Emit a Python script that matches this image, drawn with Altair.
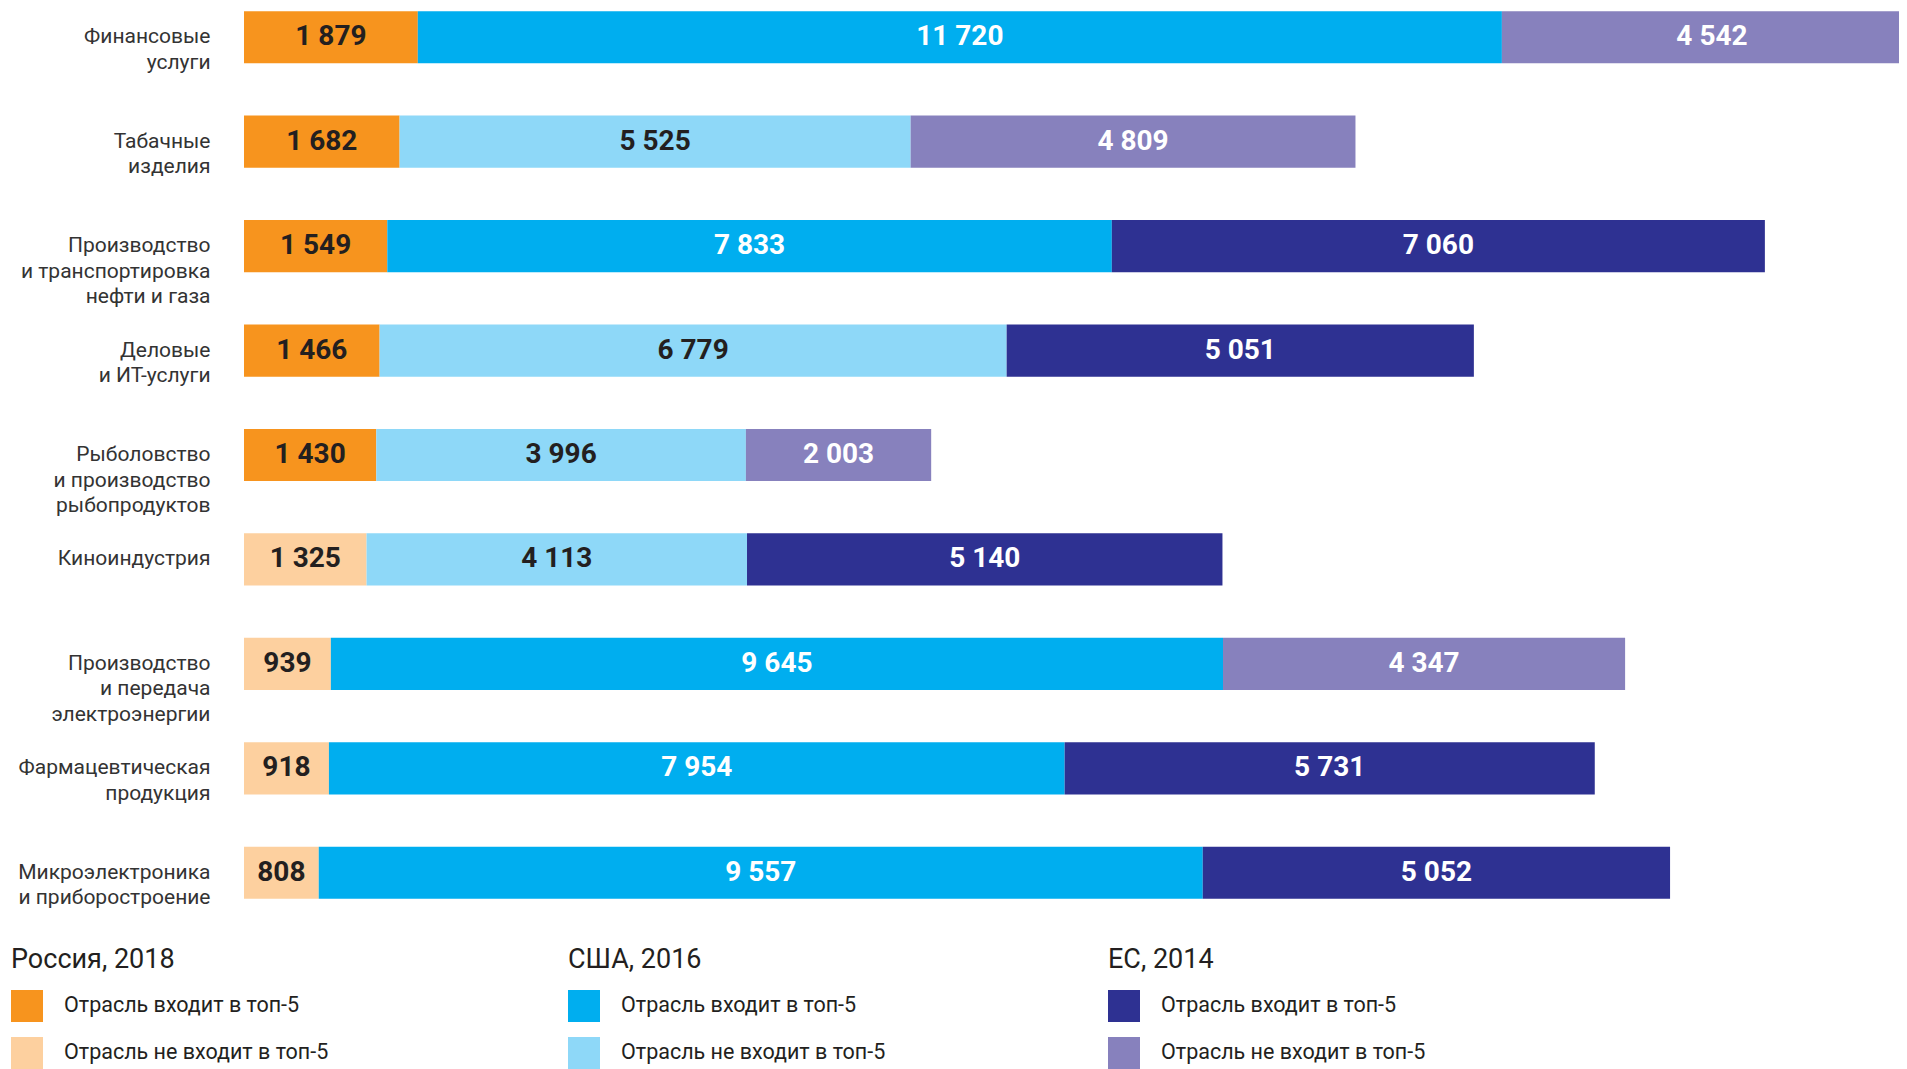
import altair as alt
import pandas as pd

categories = [
    "Финансовые\nуслуги",
    "Табачные\nизделия",
    "Производство\nи транспортировка\nнефти и газа",
    "Деловые\nи ИТ-услуги",
    "Рыболовство\nи производство\nрыбопродуктов",
    "Киноиндустрия",
    "Производство\nи передача\nэлектроэнергии",
    "Фармацевтическая\nпродукция",
    "Микроэлектроника\nи приборостроение",
]
russia_values = [1879, 1682, 1549, 1466, 1430, 1325, 939, 918, 808]
russia_top5 = [True, True, True, True, True, False, False, False, False]
usa_values = [11720, 5525, 7833, 6779, 3996, 4113, 9645, 7954, 9557]
usa_top5 = [True, False, True, False, False, False, True, True, True]
eu_values = [4542, 4809, 7060, 5051, 2003, 5140, 4347, 5731, 5052]
eu_top5 = [False, False, True, True, False, True, False, True, True]

legend_groups = ["Россия, 2018", "США, 2016", "ЕС, 2014"]
legend_labels = ["Отрасль входит в топ-5", "Отрасль не входит в топ-5"]
region_codes = ["ru", "us", "eu"]

color_domain = ["ru_top", "ru_other", "us_top", "us_other", "eu_top", "eu_other"]
color_range = ["#F7941E", "#FDD09F", "#00AEEF", "#8ED8F8", "#2E3192", "#8781BD"]

rows = []
for i, cat in enumerate(categories):
    start = 0
    for reg, vals, tops in [("ru", russia_values, russia_top5),
                            ("us", usa_values, usa_top5),
                            ("eu", eu_values, eu_top5)]:
        v = vals[i]
        rows.append(dict(cat=cat, region=reg, top5=tops[i],
                         key=f"{reg}_{'top' if tops[i] else 'other'}",
                         x0=start, x1=start + v, mid=start + v / 2, value=v))
        start += v
df = pd.DataFrame(rows)

color_scale = alt.Scale(domain=color_domain, range=color_range)

y_enc = alt.Y(
    "cat:N", sort=categories,
    scale=alt.Scale(paddingInner=0.5, paddingOuter=0.03),
    axis=alt.Axis(title=None, domain=False, ticks=False, tickSize=0,
                  labelPadding=34, labelFontSize=21, labelLineHeight=25.5,
                  labelColor="#333333", labelFont="Roboto", labelLimit=400,
                  labelExpr="split(datum.label, '\\n')",
                  minExtent=236, maxExtent=236),
)
x_scale = alt.Scale(domain=[0, 17892], nice=False, zero=True)

bars = alt.Chart(df).mark_bar(clip=True).encode(
    y=y_enc,
    x=alt.X("x0:Q", scale=x_scale, axis=None),
    x2="x1:Q",
    color=alt.Color("key:N", scale=color_scale, legend=None),
)
texts = alt.Chart(df).transform_calculate(
    label="replace(format(datum.value, ','), ',', ' ')"
).mark_text(fontSize=28, fontWeight="bold", font="Roboto", baseline="middle").encode(
    y=y_enc,
    x=alt.X("mid:Q", scale=x_scale, axis=None),
    text="label:N",
    color=alt.condition(
        "datum.region == 'ru' || (datum.region == 'us' && !datum.top5)",
        alt.value("#231F20"), alt.value("#FFFFFF")),
)
main = alt.layer(bars, texts).properties(width=1655, height=894)

# legend
t_rows = [dict(gi=gi, row=0, text=g) for gi, g in enumerate(legend_groups)]
i_rows = []
for gi, reg in enumerate(region_codes):
    for ri, lab in enumerate(legend_labels):
        i_rows.append(dict(gi=gi, row=ri + 1, text=lab,
                           key=f"{reg}_{'top' if ri == 0 else 'other'}"))
df_t = pd.DataFrame(t_rows)
df_i = pd.DataFrame(i_rows)

leg_x = alt.X("gi:Q", scale=alt.Scale(domain=[0, 1, 2], range=[-233, 324, 864], zero=False, nice=False), axis=None)
leg_y = alt.Y("row:Q", scale=alt.Scale(domain=[0, 1, 2], range=[52, 98, 145], zero=False, nice=False), axis=None)

titles = alt.Chart(df_t).mark_text(align="left", baseline="middle", fontSize=27,
                                   font="Roboto", color="#231F20", dx=0).encode(
    x=leg_x, y=leg_y, text="text:N")
swatches = alt.Chart(df_i).mark_square(size=1024, opacity=1, xOffset=16).encode(
    x=leg_x, y=leg_y, color=alt.Color("key:N", scale=color_scale, legend=None))
items = alt.Chart(df_i).mark_text(align="left", baseline="middle", fontSize=21.5,
                                  font="Roboto", color="#231F20", dx=53).encode(
    x=leg_x, y=leg_y, text="text:N")
legend = alt.layer(titles, swatches, items).properties(width=1655, height=159)

chart = alt.vconcat(main, legend, spacing=0).properties(padding=0).configure(
    font="Roboto").configure_view(stroke=None, strokeWidth=0)

chart.save("out.html", embed_options={"renderer": "svg", "actions": False})
